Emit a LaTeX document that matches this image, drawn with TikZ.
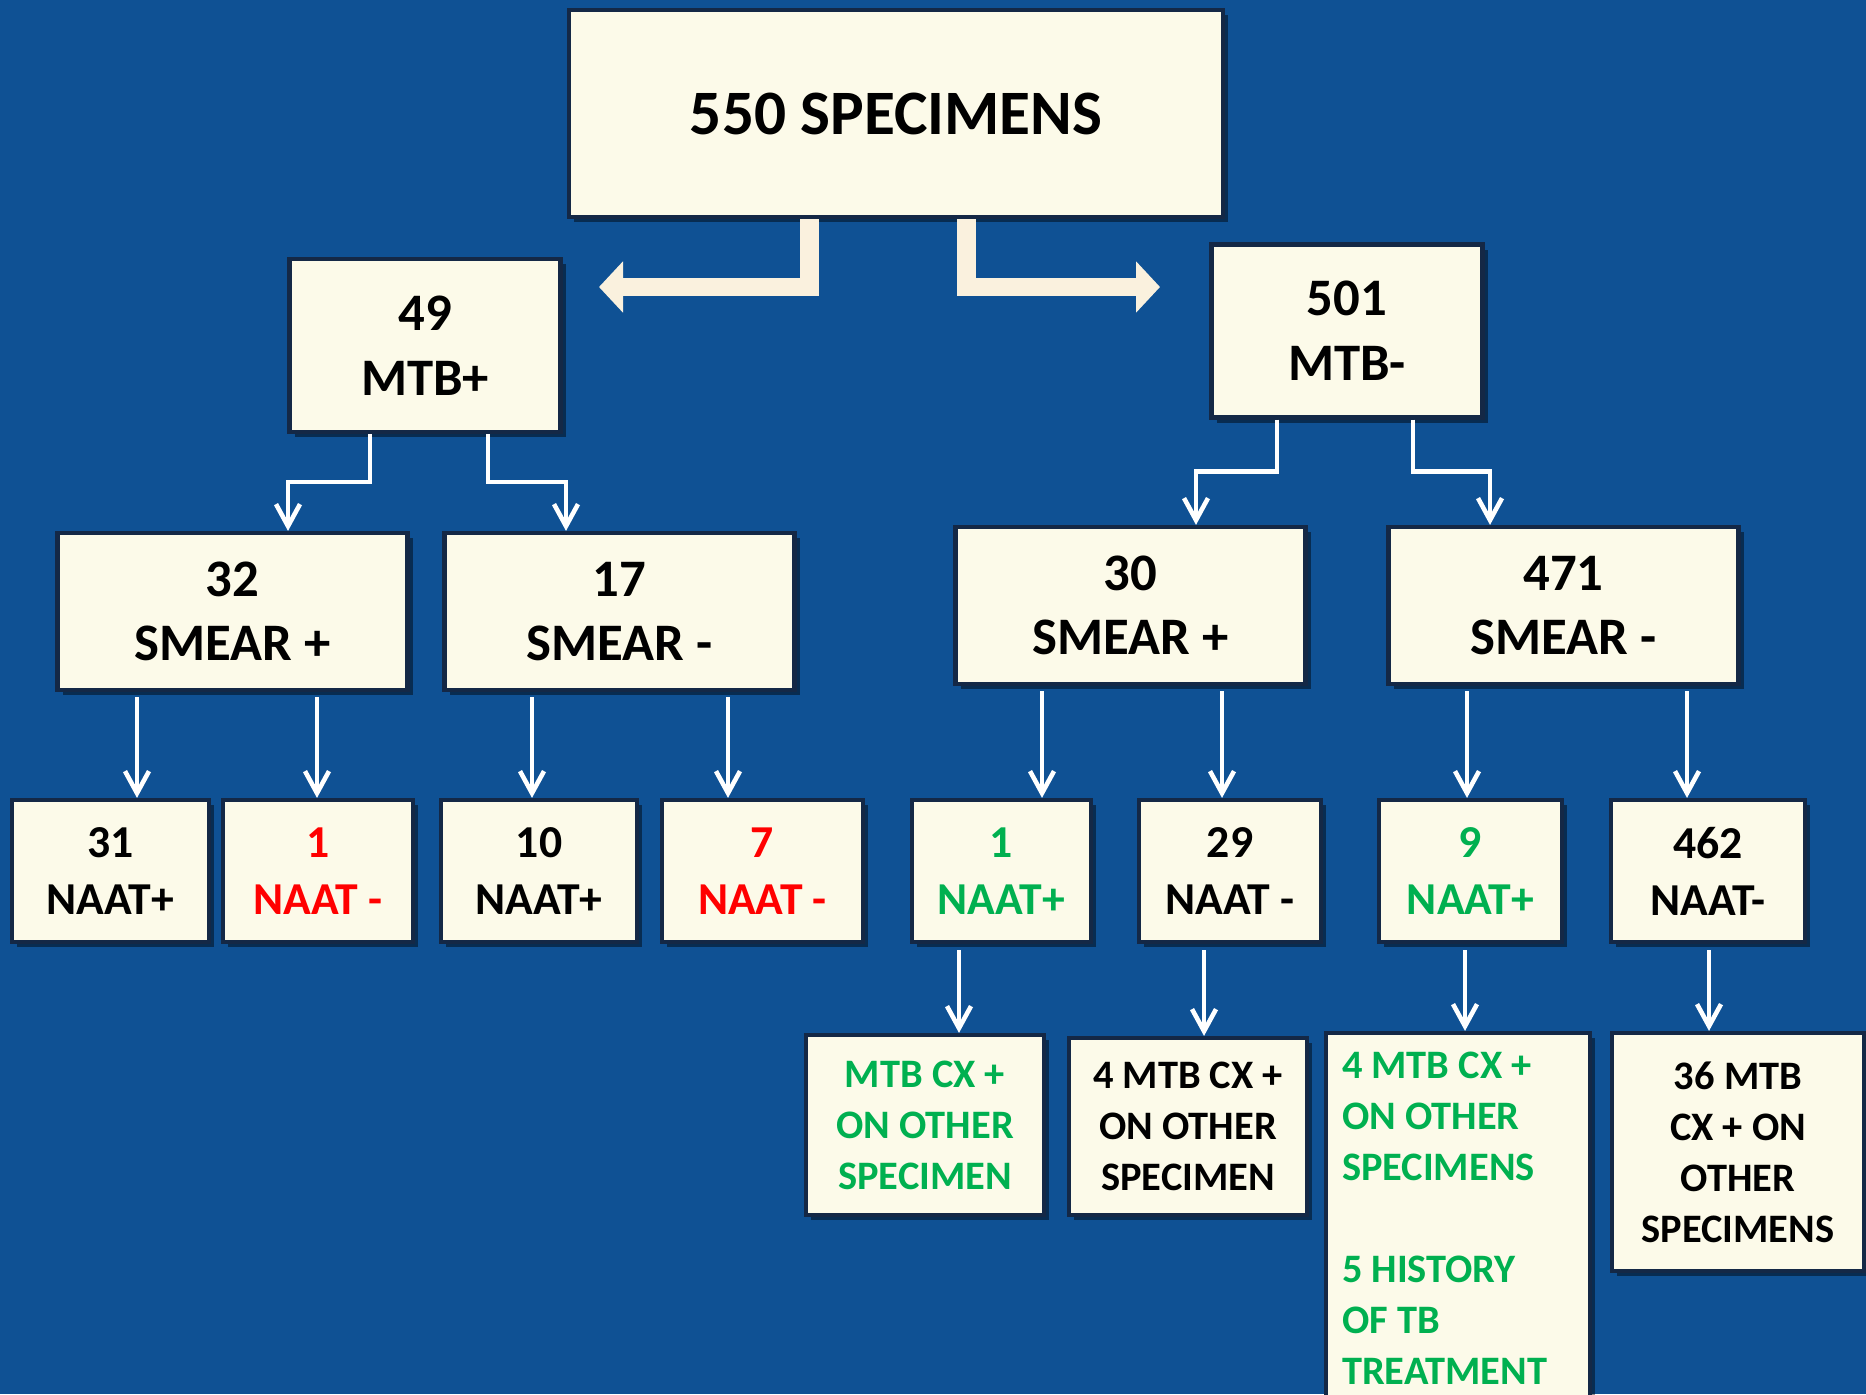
\documentclass[tikz,border=0pt]{standalone}
\usepackage{fontspec}
\setmainfont{Carlito}
\usepackage{tikz}
\usetikzlibrary{arrows.meta,positioning,calc,shadows}

\definecolor{bgblue}{RGB}{15,81,148}
\definecolor{cream}{RGB}{252,250,233}
\definecolor{boxedge}{RGB}{20,40,70}
\definecolor{arrcream}{RGB}{250,241,222}
\definecolor{okgreen}{RGB}{0,176,80}
\definecolor{badred}{RGB}{255,0,0}

\begin{document}
\begin{tikzpicture}[
  font=\bfseries,
  bbox/.style={draw=boxedge, line width=1.2pt, fill=cream, inner sep=0pt,
               align=center,
               drop shadow={shadow xshift=1.5pt, shadow yshift=-1.5pt,
                            fill=black, opacity=.45}},
  topbox/.style={bbox, minimum width=6.54cm, minimum height=2.07cm,
                 font=\bfseries\fontsize{18}{22}\selectfont},
  mtbbox/.style={bbox, minimum width=2.71cm, minimum height=1.73cm,
                 font=\bfseries\fontsize{15}{18.5}\selectfont},
  smearbox/.style={bbox, minimum width=3.50cm, minimum height=1.57cm,
                   font=\bfseries\fontsize{15}{18.2}\selectfont},
  naatbox/.style={bbox, minimum height=1.42cm,
                  font=\bfseries\fontsize{13}{16.2}\selectfont},
  cxbox/.style={bbox, font=\bfseries\fontsize{11.5}{14.5}\selectfont},
  warrow/.style={-{Straight Barb[length=2.2mm,width=2.4mm]}, white, line width=1.3pt},
  carrow/.style={-{Triangle[width=5mm,length=2.4mm]}, arrcream, line width=5.4pt},
]
  \fill[bgblue] (0,0) rectangle (18.66,-13.94);
  \useasboundingbox (0,0) rectangle (18.66,-13.94);

  % boxes
  \node[topbox]   (top)  at (8.96, -1.135) {550 SPECIMENS};
  \node[mtbbox]   (mtbp) at (4.25, -3.455) {49\\MTB+};
  \node[mtbbox]   (mtbn) at (13.47, -3.31) {501\\MTB-};

  \node[smearbox] (s1) at (2.325, -6.115)  {32\\SMEAR +};
  \node[smearbox] (s2) at (6.195, -6.115)  {17\\SMEAR -};
  \node[smearbox] (s3) at (11.305, -6.055) {30\\SMEAR +};
  \node[smearbox] (s4) at (15.635, -6.055) {471\\SMEAR -};

  \node[naatbox, minimum width=1.97cm] (n1) at (1.105, -8.71)  {31\\NAAT+};
  \node[naatbox, minimum width=1.90cm, text=badred] (n2) at (3.18, -8.71) {1\\NAAT -};
  \node[naatbox, minimum width=1.96cm] (n3) at (5.39, -8.71)   {10\\NAAT+};
  \node[naatbox, minimum width=2.01cm, text=badred] (n4) at (7.625, -8.71) {7\\NAAT -};
  \node[naatbox, minimum width=1.79cm, text=okgreen] (n5) at (10.015, -8.71) {1\\NAAT+};
  \node[naatbox, minimum width=1.82cm] (n6) at (12.30, -8.71)  {29\\NAAT -};
  \node[naatbox, minimum width=1.83cm, text=okgreen] (n7) at (14.705, -8.71) {9\\NAAT+};
  \node[naatbox, minimum width=1.94cm] (n8) at (17.08, -8.71)  {462\\NAAT-};

  \node[cxbox, minimum width=2.38cm, minimum height=1.80cm, text=okgreen]
    (c1) at (9.25, -11.25) {MTB CX +\\ON OTHER\\SPECIMEN};
  \node[cxbox, minimum width=2.38cm, minimum height=1.77cm]
    (c2) at (11.88, -11.265) {4 MTB CX +\\ON OTHER\\SPECIMEN};
  \node[cxbox, minimum width=2.64cm, minimum height=3.70cm, text=okgreen,
        align=flush left, text width=2.32cm]
    (c3) at (14.58, -12.18) {4 MTB CX +\\ON OTHER\\SPECIMENS\\[14.5pt]5 HISTORY\\OF TB\\TREATMENT};
  \node[cxbox, minimum width=2.52cm, minimum height=2.38cm]
    (c4) at (17.38, -11.52) {36 MTB\\CX + ON\\OTHER\\SPECIMENS};

  % top split
  \coordinate (lend) at (5.99, -2.87);
  \coordinate (rend) at (11.60, -2.87);
  \draw[carrow] (top.south -| 8.09,0) |- (lend);
  \draw[carrow] (top.south -| 9.66,0) |- (rend);

  % elbows to smear level
  \draw[warrow] (mtbp.south -| 3.70,0) -- ++(0,-0.48) -| (s1.north -| 2.88,0);
  \draw[warrow] (mtbp.south -| 4.88,0) -- ++(0,-0.48) -| (s2.north -| 5.66,0);
  \draw[warrow] (mtbn.south -| 12.77,0) -- ++(0,-0.52) -| (s3.north -| 11.96,0);
  \draw[warrow] (mtbn.south -| 14.13,0) -- ++(0,-0.52) -| (s4.north -| 14.90,0);

  % smear to naat
  \foreach \a/\b/\x in {s1/n1/1.37, s1/n2/3.17, s2/n3/5.32, s2/n4/7.28,
                        s3/n5/10.42, s3/n6/12.22, s4/n7/14.67, s4/n8/16.87} {
    \draw[warrow] ($(\a.south -| \x,0)+(0,-0.05)$) -- (\b.north -| \x,0);
  }

  % naat to culture
  \foreach \a/\b/\x in {n5/c1/9.59, n6/c2/12.04, n7/c3/14.65, n8/c4/17.09} {
    \draw[warrow] ($(\a.south -| \x,0)+(0,-0.06)$) -- (\b.north -| \x,0);
  }
\end{tikzpicture}
\end{document}
